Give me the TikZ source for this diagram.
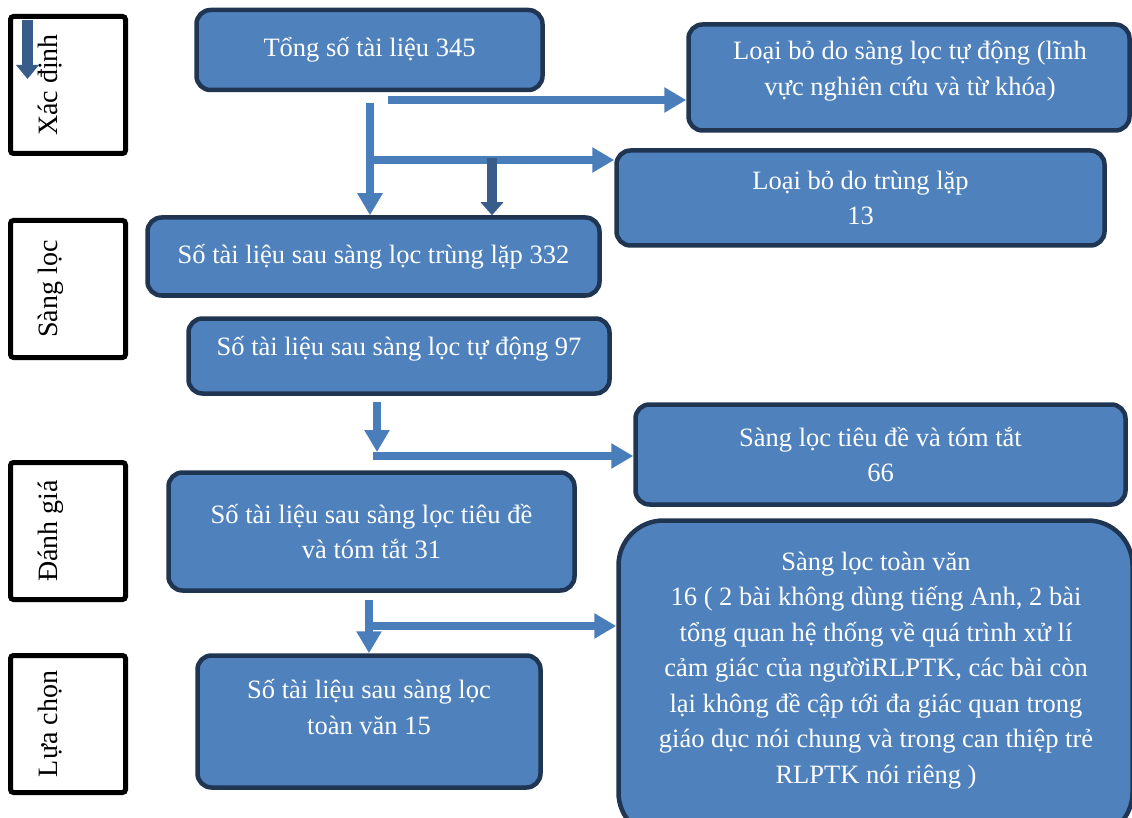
\documentclass[tikz,border=0pt]{standalone}
\usepackage{fontspec}
\setmainfont{Liberation Serif}
\usepackage{tikz}
\usetikzlibrary{arrows.meta,positioning}
\definecolor{boxfill}{HTML}{4F81BD}
\definecolor{boxline}{HTML}{1F3552}
\definecolor{flowblue}{HTML}{4A7EBB}
\definecolor{flowdark}{HTML}{385D8A}
\newcommand{\flowfont}{\fontsize{26.5}{35.5}\selectfont}
\newcommand{\stagefont}{\fontsize{28}{32}\selectfont}
\tikzset{
  flowbox/.style={draw=boxline, fill=boxfill, line width=4.5pt, rounded corners=14pt,
                  text=white, font=\flowfont, align=center, inner sep=0pt},
  flowtext/.style={text=white, font=\flowfont, align=center, inner sep=0pt},
  stagebox/.style={draw=black, line width=5pt, fill=white, rounded corners=3pt, rotate=90,
                   minimum width=137pt, minimum height=115pt, font=\stagefont,
                   text height=22pt, text depth=44pt, inner sep=0pt},
  flowarrow/.style={draw=flowblue, line width=7.5pt, -{Triangle[width=24pt,length=22pt]}},
  dupdarrow/.style={draw=flowdark, line width=10pt, -{Triangle[width=22pt,length=13pt]}},
  stagearrow/.style={draw=flowdark, line width=11pt, -{Triangle[width=22pt,length=14pt]}},
}

\begin{document}
\begin{tikzpicture}[x=1pt, y=-1pt]
  \useasboundingbox (0,0) rectangle (1132,818);
  % stages on the left
  \node[stagebox] (define) at (68,85)  {Xác định};
  \node[stagebox] (screen) at (68,289) {Sàng lọc};
  \node[stagebox] (assess) at (68,531) {Đánh giá};
  \node[stagebox] (select) at (68,724) {Lựa chọn};
  \coordinate (tipA) at (27.5,20);
  \coordinate (tipB) at (27.5,79);
  \draw[stagearrow] (tipA) -- (tipB);
  % flow boxes
  \node[flowbox, minimum width=346pt, minimum height=80pt] (total) at (369.5,50)
        {Tổng số tài liệu 345};
  \node[flowbox, minimum width=441pt, minimum height=106pt] (autodrop) at (909,77.5) {};
  \node[flowtext] (autodroptxt) at (910,71)
        {Loại bỏ do sàng lọc tự động (lĩnh\\vực nghiên cứu và từ khóa)};
  \node[flowbox, minimum width=488pt, minimum height=95pt] (dupdrop) at (860.5,198)
        {Loại bỏ do trùng lặp\\13};
  \node[flowbox, minimum width=452pt, minimum height=78pt] (dedup) at (373.5,256.5)
        {Số tài liệu sau sàng lọc trùng lặp 332};
  \node[flowbox, minimum width=421pt, minimum height=75pt, text depth=20pt] (autokept) at (399,356)
        {Số tài liệu sau sàng lọc tự động 97};
  \node[flowbox, minimum width=490pt, minimum height=100pt] (tadrop) at (880.5,454.5)
        {Sàng lọc tiêu đề và tóm tắt\\66};
  \node[flowbox, minimum width=406pt, minimum height=118pt] (takept) at (371.5,531.5)
        {Số tài liệu sau sàng lọc tiêu đề\\và tóm tắt 31};
  \node[flowbox, rounded corners=45pt, minimum width=514pt, minimum height=317pt] (ftdrop) at (875.5,679) {};
  \node[flowtext] (ftdroptxt) at (876,670.5)
        {Sàng lọc toàn văn\\
         16 ( 2 bài không dùng tiếng Anh, 2 bài\\
         tổng quan hệ thống về quá trình xử lí\\
         cảm giác của ngườiRLPTK, các bài còn\\
         lại không đề cập tới đa giác quan trong\\
         giáo dục nói chung và trong can thiệp trẻ\\
         RLPTK nói riêng )};
  \node[flowbox, minimum width=343pt, minimum height=132pt] (ftkept) at (369,721.5) {};
  \node[flowtext] (ftkepttxt) at (369,707) {Số tài liệu sau sàng lọc\\toàn văn 15};
  % connectors
  \coordinate (splitA) at (388,100);
  \coordinate (downA)  at (370,103);
  \coordinate (splitB) at (370,160);
  \coordinate (downB)  at (492,158);
  \coordinate (downC)  at (377,402);
  \coordinate (downCe) at (377,452);
  \coordinate (splitC) at (373,456);
  \coordinate (downD)  at (369,600);
  \coordinate (splitD) at (373,626);
  \draw[flowarrow] (splitA) -- (splitA -| autodrop.west);
  \draw[flowarrow] (downA) -- (downA |- dedup.north);
  \draw[flowarrow] (splitB) -- (splitB -| dupdrop.west);
  \draw[dupdarrow] (downB) -- (downB |- dedup.north);
  \draw[flowarrow] (downC) -- (downCe);
  \draw[flowarrow] (splitC) -- (splitC -| tadrop.west);
  \draw[flowarrow] (downD) -- (downD |- ftkept.north);
  \draw[flowarrow] (splitD) -- (splitD -| ftdrop.west);
\end{tikzpicture}
\end{document}
